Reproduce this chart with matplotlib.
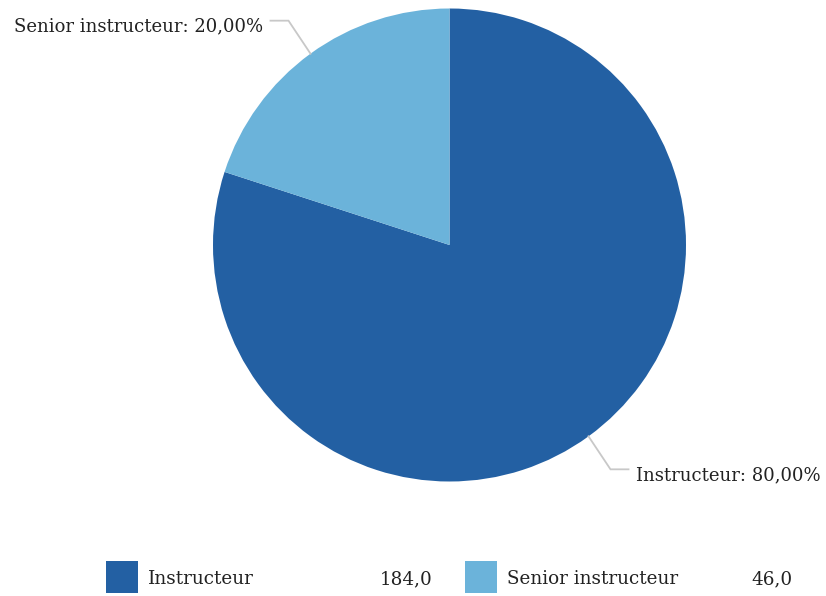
import numpy as np
import matplotlib
matplotlib.use('Agg')
import matplotlib.pyplot as plt
from matplotlib.patches import Rectangle

labels = ['Instructeur', 'Senior instructeur']
values = [184.0, 46.0]
colors = ['#2360a3', '#6bb3da']

W, H = 826, 596
plt.rcParams['font.family'] = ['DejaVu Serif']

fig = plt.figure(figsize=(W / 100, H / 100), dpi=100)
ax = fig.add_axes([0, 0, 1, 1])

cx, cy, r = 449.5, H - 245, 236.5
ax.pie(values, colors=colors, startangle=90, counterclock=False,
       center=(cx, cy), radius=r, frame=True,
       wedgeprops=dict(linewidth=0))
ax.set_xlim(0, W)
ax.set_ylim(0, H)
ax.set_aspect('equal')
ax.axis('off')

total = sum(values)
start = 90
for lab, v in zip(labels, values):
    span = 360 * v / total
    mid = np.deg2rad(start - span / 2)
    start -= span
    x0, y0 = cx + r * np.cos(mid), cy + r * np.sin(mid)
    side = 1 if np.cos(mid) > 0 else -1
    x1, y1 = x0 + 22 * side, y0 + 33 * np.sign(np.sin(mid))
    x2 = x1 + 18 * side
    ax.plot([x0, x1, x2], [y0, y1, y1], color='#c8c8c8', lw=1.3,
            solid_joinstyle='miter')
    txt = f'{lab}: {100 * v / total:.2f}%'.replace('.', ',')
    ax.text(x2 + 7 * side, y1 - 6, txt, ha='left' if side > 0 else 'right',
            va='center', fontsize=13, color='#222222')

# legend
lx = [106, 465]
vx = [433, 793]
ly = H - 579
for i, (lab, v) in enumerate(zip(labels, values)):
    ax.add_patch(Rectangle((lx[i], H - 593), 32, 32, color=colors[i], lw=0))
    ax.text(lx[i] + 42, ly, lab, ha='left', va='center', fontsize=13.2,
            color='#222222')
    ax.text(vx[i], ly, f'{v:.1f}'.replace('.', ','), ha='right', va='center',
            fontsize=13.2, color='#222222')

fig.savefig('out.png', dpi=100)
